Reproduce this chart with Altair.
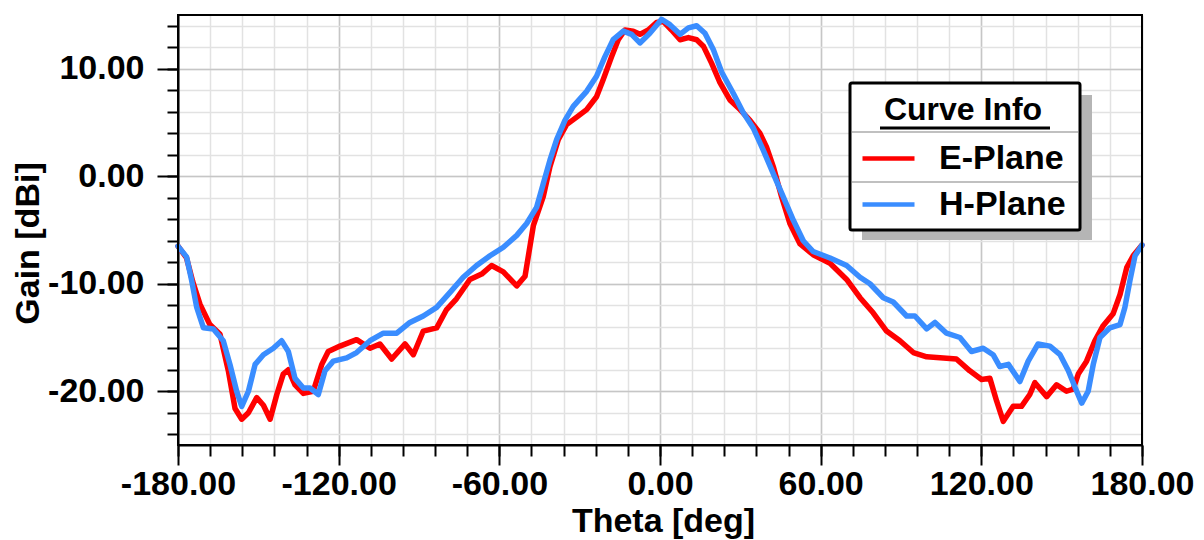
import altair as alt
import pandas as pd

# ---------------- data ----------------
e_theta = [-180, -176.8, -174.5, -171.8, -168.1, -164.3, -161.2, -158.7, -156.2, -153.7,
           -150.6, -148.1, -145.6, -143.1, -140.7, -138.8, -136.3, -133.2, -129.5, -126.3,
           -123.9, -119.5, -113.3, -108.3, -104.6, -100.2, -95.2, -92.1, -88.4, -83.4,
           -79.7, -76.0, -71.0, -66.6, -62.9, -58.5, -53.5, -50.4, -47.3, -43.6,
           -41.1, -38.0, -34.9, -31.1, -27.4, -23.7, -21.2, -18.1, -15.6, -13.1,
           -10.0, -7.5, -4.4, -1.3, 1.2, 4.3, 7.5, 10.6, 13.7, 16.2,
           19.3, 22.4, 26.1, 29.9, 33.6, 37.3, 39.8, 42.3, 45.4, 48.5,
           52.3, 57.2, 63.5, 69.7, 74.7, 79.6, 84.6, 89.6, 94.6, 99.6,
           105.8, 110.7, 115.7, 120.1, 123.2, 125.7, 128.2, 131.9, 135.0, 138.1,
           140.0, 144.4, 148.1, 151.8, 154.3, 156.2, 159.3, 162.4, 165.5, 169.2,
           171.8, 174.3, 176.7, 180]
e_gain = [-6.5, -7.6, -9.8, -11.9, -13.8, -14.7, -18.1, -21.6, -22.6, -22.0,
          -20.6, -21.3, -22.6, -20.3, -18.4, -18.0, -19.4, -20.2, -20.0, -17.5,
          -16.3, -15.8, -15.2, -16.0, -15.6, -17.0, -15.6, -16.6, -14.4, -14.1,
          -12.4, -11.4, -9.6, -9.1, -8.3, -8.9, -10.2, -9.3, -4.6, -1.9,
          0.9, 3.4, 4.8, 5.5, 6.2, 7.4, 9.0, 11.1, 12.7, 13.6,
          13.5, 13.2, 13.6, 14.3, 14.4, 13.6, 12.7, 12.9, 12.7, 12.1,
          10.5, 8.7, 7.1, 6.2, 5.2, 4.0, 2.7, 0.9, -1.9, -4.4,
          -6.3, -7.3, -8.1, -9.6, -11.3, -12.7, -14.4, -15.3, -16.4, -16.8,
          -16.9, -17.0, -18.1, -18.9, -18.8, -20.9, -22.8, -21.4, -21.4, -20.3,
          -19.2, -20.5, -19.4, -20.0, -19.8, -18.4, -17.2, -15.3, -13.9, -12.8,
          -11.0, -8.5, -7.4, -6.4]

h_theta = [-180, -176.8, -174.9, -173.0, -170.5, -166.8, -163.1, -160.6, -158.1, -156.2,
           -153.7, -151.2, -148.1, -144.4, -141.3, -138.8, -136.3, -133.2, -130.7, -127.6,
           -125.1, -122.0, -117.0, -113.3, -108.3, -103.3, -98.3, -93.4, -88.4, -83.4,
           -78.4, -73.5, -68.5, -63.5, -58.5, -53.5, -49.8, -46.1, -43.6, -41.1,
           -38.6, -35.5, -32.4, -27.4, -23.7, -20.6, -17.5, -13.7, -10.6, -7.5,
           -3.8, 0.6, 3.7, 7.5, 10.6, 13.7, 16.8, 19.9, 23.0, 27.4,
           31.1, 34.8, 38.6, 42.3, 46.0, 49.8, 53.5, 57.2, 63.5, 69.7,
           74.7, 78.4, 83.4, 87.1, 92.1, 95.2, 99.6, 102.7, 107.0, 112.0,
           116.3, 120.7, 124.4, 126.9, 130.1, 134.4, 137.5, 141.2, 145.6, 149.4,
           152.5, 155.6, 157.5, 159.9, 161.8, 164.3, 168.0, 171.8, 173.6, 175.5,
           177.4, 180]
h_gain = [-6.5, -7.5, -9.7, -12.2, -14.1, -14.2, -15.3, -17.5, -20.0, -21.4,
          -20.0, -17.5, -16.6, -16.0, -15.3, -16.3, -18.8, -19.7, -19.7, -20.3,
          -18.1, -17.2, -16.9, -16.4, -15.3, -14.6, -14.6, -13.6, -13.0, -12.2,
          -10.8, -9.4, -8.3, -7.4, -6.6, -5.5, -4.4, -2.9, -0.7, 1.5,
          3.4, 5.2, 6.5, 7.9, 9.3, 11.1, 12.7, 13.5, 13.2, 12.4,
          13.3, 14.6, 14.1, 13.2, 13.8, 14.0, 13.3, 11.8, 9.7, 7.7,
          5.9, 4.5, 2.4, 0.25, -1.9, -4.1, -6.0, -7.0, -7.6, -8.3,
          -9.4, -10.0, -11.3, -11.7, -13.0, -13.0, -14.2, -13.6, -14.6, -15.0,
          -16.3, -16.0, -16.6, -17.7, -17.5, -19.1, -17.2, -15.6, -15.8, -16.6,
          -18.1, -20.0, -21.1, -20.0, -17.5, -15.0, -14.1, -13.8, -12.2, -9.7,
          -7.4, -6.4]

series_names = ["E-Plane", "H-Plane"]
series_colors = ["#ff0000", "#3a8dff"]

x_major = [-180, -120, -60, 0, 60, 120, 180]
x_minor = list(range(-180, 181, 12))
y_major = [-20, -10, 0, 10]
y_minor = list(range(-24, 15, 2))

x_title = "Theta [deg]"
y_title = "Gain [dBi]"
legend_title = "Curve Info"

df = pd.concat([
    pd.DataFrame({"theta": e_theta, "gain": e_gain, "curve": series_names[0]}),
    pd.DataFrame({"theta": h_theta, "gain": h_gain, "curve": series_names[1]}),
], ignore_index=True)

FONT = "Liberation Sans"
W, H = 964, 430

x_scale = alt.Scale(domain=[-180, 180], nice=False, zero=False)
y_scale = alt.Scale(domain=[-25, 15], nice=False, zero=False)
label_expr = "(datum.value < 0 ? '-' : '') + format(abs(datum.value), '.2f')"

# minor ticks + light grid (invisible line layer carries the axes)
minor = alt.Chart(df).mark_line(opacity=0).encode(
    x=alt.X("theta:Q", scale=x_scale, axis=alt.Axis(
        orient="bottom", values=x_minor, labels=False, title=None, domain=False,
        grid=True, gridColor="#e2e2e2", gridWidth=1.5,
        ticks=True, tickColor="black", tickWidth=2, tickSize=11)),
    y=alt.Y("gain:Q", scale=y_scale, axis=alt.Axis(
        orient="left", values=y_minor, labels=False, title=None, domain=False,
        grid=True, gridColor="#e2e2e2", gridWidth=1.5,
        ticks=True, tickColor="black", tickWidth=2, tickSize=11)),
    detail="curve:N",
)

lines = alt.Chart(df).mark_line(strokeWidth=5.5, strokeJoin="round", strokeCap="round").encode(
    x=alt.X("theta:Q", scale=x_scale, axis=alt.Axis(
        orient="bottom", values=x_major, labelExpr=label_expr, labelFlush=False,
        labelOverlap=False, labelFont=FONT, labelFontSize=34, labelFontWeight="bold",
        labelColor="black", labelPadding=2,
        domain=True, domainColor="black", domainWidth=2,
        grid=True, gridColor="#c6c6c6", gridWidth=1.5,
        tickColor="black", tickWidth=2, tickSize=20,
        title=x_title, titleFont=FONT, titleFontSize=34, titleFontWeight="bold",
        titleColor="black", titleX=485, titleY=86, titleBaseline="alphabetic",
        titleAlign="center")),
    y=alt.Y("gain:Q", scale=y_scale, axis=alt.Axis(
        orient="left", values=y_major, labelExpr=label_expr, labelFlush=False,
        labelOverlap=False, labelFont=FONT, labelFontSize=34, labelFontWeight="bold",
        labelColor="black", labelPadding=13,
        domain=True, domainColor="black", domainWidth=2,
        grid=True, gridColor="#c6c6c6", gridWidth=1.5,
        tickColor="black", tickWidth=2, tickSize=21,
        title=y_title, titleFont=FONT, titleFontSize=34, titleFontWeight="bold",
        titleColor="black", titleX=-140, titleY=228, titleAngle=270,
        titleBaseline="alphabetic", titleAlign="center")),
    color=alt.Color("curve:N", scale=alt.Scale(domain=series_names, range=series_colors),
                    legend=alt.Legend(
                        orient="none", legendX=672, legendY=70, padding=10,
                        title=legend_title, titleFont=FONT, titleFontSize=32,
                        titleFontWeight="bold", titleColor="black", titleAnchor="middle",
                        titlePadding=3,
                        labelFont=FONT, labelFontSize=34, labelFontWeight="bold",
                        labelColor="black", labelOffset=22,
                        symbolType="stroke", symbolSize=2704, symbolStrokeWidth=4.5,
                        rowPadding=-4)),
    order=alt.Order("curve:N"),
)

anchor = pd.DataFrame({"a": [0]})
shadow = alt.Chart(anchor).mark_rect(color="#b5b5b5").encode(
    x=alt.value(684), x2=alt.value(914), y=alt.value(80), y2=alt.value(225))
box = alt.Chart(anchor).mark_rect(fill="white", stroke="black", strokeWidth=3,
                                  cornerRadius=2).encode(
    x=alt.value(672), x2=alt.value(902), y=alt.value(68), y2=alt.value(215))
sep1 = alt.Chart(anchor).mark_rule(color="#c0c0c0", strokeWidth=2).encode(
    x=alt.value(674), x2=alt.value(900), y=alt.value(117))
sep2 = alt.Chart(anchor).mark_rule(color="#c0c0c0", strokeWidth=2).encode(
    x=alt.value(674), x2=alt.value(900), y=alt.value(167))
underline = alt.Chart(anchor).mark_rule(color="black", strokeWidth=3).encode(
    x=alt.value(702), x2=alt.value(872), y=alt.value(113))
border = alt.Chart(anchor).mark_rect(fillOpacity=0, stroke="black", strokeWidth=2).encode(
    x=alt.value(0), x2=alt.value(W), y=alt.value(0), y2=alt.value(H))

chart = alt.layer(minor, lines, shadow, box, sep1, sep2, underline, border).resolve_axis(
    x="independent", y="independent"
).properties(
    width=W, height=H,
    padding={"left": 170, "top": 7, "right": 54, "bottom": 95},
    autosize=alt.AutoSizeParams(type="none"),
    background="white",
).configure_view(stroke=None)

chart.save("out.html", embed_options={"renderer": "svg", "actions": False})
